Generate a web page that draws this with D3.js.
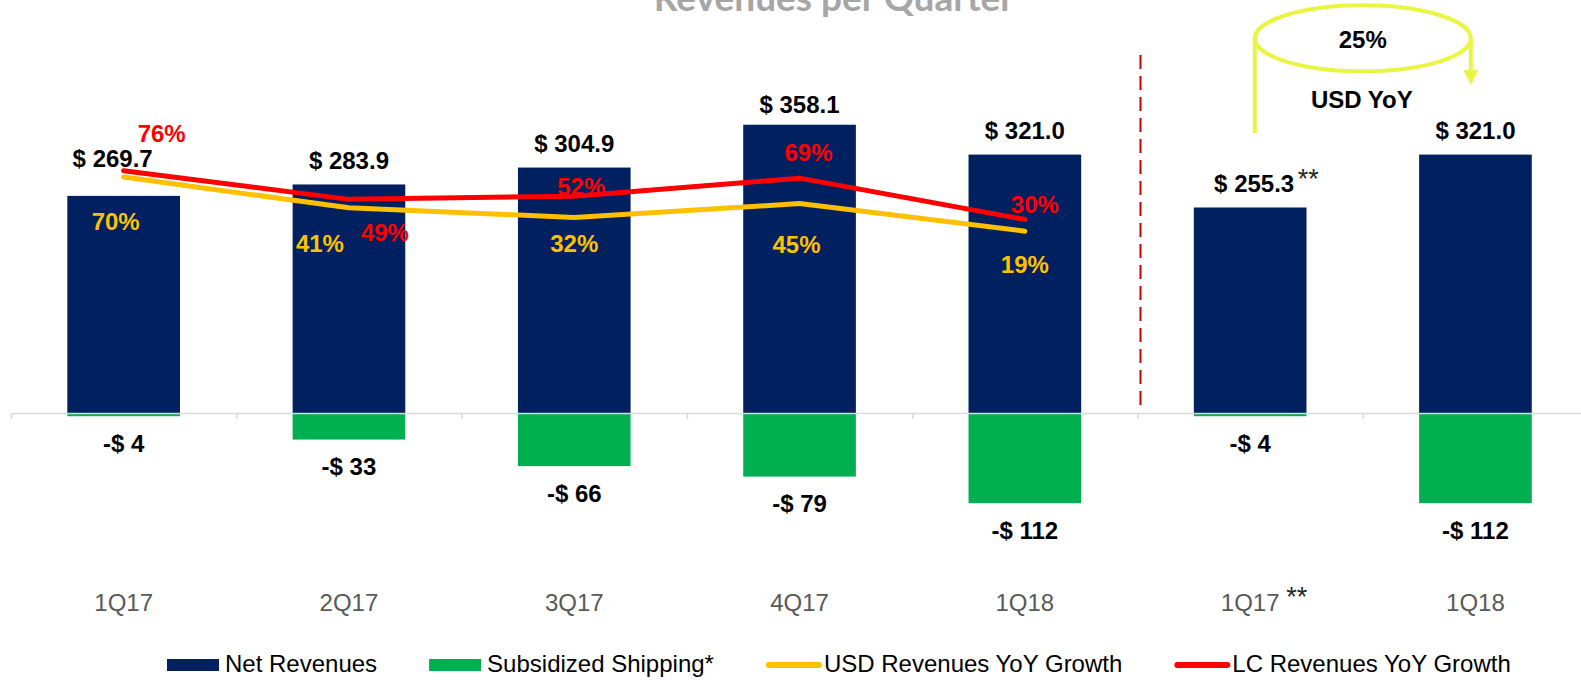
<!DOCTYPE html>
<html>
<head>
  <meta charset="utf-8">
  <title>Revenues per Quarter</title>
  <script src="https://d3js.org/d3.v7.min.js"></script>
  <style>
    body { margin: 0; background: #fff; }
    text { font-family: "Liberation Sans", Arial, sans-serif; }
  </style>
</head>
<body>
  <svg width="1581" height="680" id="mainsvg"></svg>
  <script>
    // data
    const categories = ["1Q17", "2Q17", "3Q17", "4Q17", "1Q18", "1Q17", "1Q18"];
    const categoryNotes = ["", "", "", "", "", "**", ""];
    const netRevenues = [269.7, 283.9, 304.9, 358.1, 321.0, 255.3, 321.0];
    const subsidizedShipping = [-4, -33, -66, -79, -112, -4, -112];
    const usdGrowth = [70, 41, 32, 45, 19];
    const lcGrowth = [76, 49, 52, 69, 30];
    const usdYoY = 25;

    // label nudges (dx, dy) so labels sit where the slide had them
    const usdNudge = [[-8, 44], [-29, 36], [0, 26], [-3, 41], [0, 33]];
    const lcNudge = [[38, -37], [36, 33], [7, -10], [9, -26], [10, -15]];
    const barLabelNudge = [[-11, -13], [0, 0], [0, 0], [0, 4], [0, 0], [4, 0], [0, 0]];

    const navy = "#00205f", green = "#00b050", yellow = "#ffc000", red = "#ff0000";

    let svg = d3.select('#mainsvg');
    const step = 225.3, left = 11;
    const idx = d3.range(categories.length);

    let x = d3.scaleBand().domain(idx).range([left, left + step * categories.length]);
    let xEdge = d3.scaleLinear().domain([0, categories.length]).range([left, left + step * categories.length]);
    let y = d3.scaleLinear().domain([-150, 400]).range([413 + 150 * 0.805, 413 - 400 * 0.805]);
    let yp = d3.scaleLinear().domain([0, 100]).range([251.3, 145.3]);
    const cx = i => x(i) + x.bandwidth() / 2;
    const barW = x.bandwidth() * 0.5;

    // title (cut off at the top, as on the slide)
    svg.append('text')
      .attr('x', 834).attr('y', 11)
      .attr('text-anchor', 'middle')
      .style('font-family', 'Lato, sans-serif')
      .style('font-weight', 'bold')
      .style('font-size', '37px')
      .attr('fill', '#a6a6a6')
      .text('Revenues per Quarter');

    // bars
    svg.selectAll('rect.net').data(netRevenues)
      .enter().append('rect')
      .attr('class', 'net')
      .attr('x', (d, i) => cx(i) - barW / 2)
      .attr('width', barW)
      .attr('y', d => y(d))
      .attr('height', d => y(0) - y(d))
      .attr('fill', navy);

    svg.selectAll('rect.ship').data(subsidizedShipping)
      .enter().append('rect')
      .attr('class', 'ship')
      .attr('x', (d, i) => cx(i) - barW / 2)
      .attr('width', barW)
      .attr('y', y(0))
      .attr('height', d => y(d) - y(0))
      .attr('fill', green);

    // axis with ticks between categories
    let axis = svg.append('g')
      .attr('transform', `translate(0,${y(0)})`)
      .call(d3.axisBottom(xEdge).tickValues(d3.range(0, categories.length + 1)).tickSize(6).tickSizeOuter(0).tickFormat(''));
    axis.selectAll('path, line').attr('stroke', '#d9d9d9').attr('stroke-width', 1.5);

    // dashed separator
    svg.append('line')
      .attr('x1', xEdge(5) + 3).attr('x2', xEdge(5) + 3)
      .attr('y1', 55).attr('y2', 408)
      .attr('stroke', '#c00000').attr('stroke-width', 2)
      .attr('stroke-dasharray', '14,7');

    // growth lines
    const line = d3.line().x((d, i) => cx(i)).y(d => yp(d));
    svg.append('path').datum(usdGrowth)
      .attr('d', line).attr('fill', 'none')
      .attr('stroke', yellow).attr('stroke-width', 5)
      .attr('stroke-linecap', 'round').attr('stroke-linejoin', 'round');
    svg.append('path').datum(lcGrowth)
      .attr('d', line).attr('fill', 'none')
      .attr('stroke', red).attr('stroke-width', 5)
      .attr('stroke-linecap', 'round').attr('stroke-linejoin', 'round');

    const boldLabel = sel => sel.style('font-weight', 'bold').style('font-size', '24px').attr('text-anchor', 'middle');

    // value labels
    svg.selectAll('text.net').data(netRevenues)
      .enter().append('text')
      .attr('class', 'net')
      .call(boldLabel)
      .attr('x', (d, i) => cx(i) + barLabelNudge[i][0])
      .attr('y', (d, i) => y(d) - 15.5 + barLabelNudge[i][1])
      .attr('fill', '#000')
      .text(d => '$ ' + d.toFixed(1));

    svg.selectAll('text.ship').data(subsidizedShipping)
      .enter().append('text')
      .attr('class', 'ship')
      .call(boldLabel)
      .attr('x', (d, i) => cx(i))
      .attr('y', d => y(d) + 35.5)
      .attr('fill', '#000')
      .text(d => '-$ ' + Math.abs(d));

    svg.selectAll('text.usd').data(usdGrowth)
      .enter().append('text')
      .attr('class', 'usd')
      .call(boldLabel)
      .attr('x', (d, i) => cx(i) + usdNudge[i][0])
      .attr('y', (d, i) => yp(d) + usdNudge[i][1] + 8.6)
      .attr('fill', yellow)
      .text(d => d + '%');

    svg.selectAll('text.lc').data(lcGrowth)
      .enter().append('text')
      .attr('class', 'lc')
      .call(boldLabel)
      .attr('x', (d, i) => cx(i) + lcNudge[i][0])
      .attr('y', (d, i) => yp(d) + lcNudge[i][1] + 8.6)
      .attr('fill', red)
      .text(d => d + '%');

    // category labels
    svg.selectAll('text.cat').data(categories)
      .enter().append('text')
      .attr('class', 'cat')
      .attr('x', (d, i) => cx(i))
      .attr('y', 611)
      .attr('text-anchor', 'middle')
      .style('font-size', '24px')
      .attr('fill', '#595959')
      .text(d => d);

    // "**" footnote marks
    idx.filter(i => categoryNotes[i]).forEach(i => {
      svg.append('text')
        .attr('x', cx(i) + 36).attr('y', 606)
        .style('font-size', '27px').attr('fill', '#262626')
        .text(categoryNotes[i]);
      svg.append('text')
        .attr('x', cx(i) + 47.5).attr('y', 187.5)
        .style('font-size', '27px').attr('fill', '#262626')
        .text(categoryNotes[i]);
    });

    // USD YoY annotation
    const ex = xEdge(6), ey = 38.3, rx = 108, ry = 33;
    const lime = '#e9f542';
    let ann = svg.append('g');
    ann.append('ellipse')
      .attr('cx', ex).attr('cy', ey).attr('rx', rx).attr('ry', ry)
      .attr('fill', 'none').attr('stroke', lime).attr('stroke-width', 4);
    ann.append('line')
      .attr('x1', ex - rx).attr('x2', ex - rx).attr('y1', ey).attr('y2', 133)
      .attr('stroke', lime).attr('stroke-width', 4);
    ann.append('line')
      .attr('x1', ex + rx).attr('x2', ex + rx).attr('y1', ey).attr('y2', 72)
      .attr('stroke', lime).attr('stroke-width', 4);
    ann.append('path')
      .attr('d', `M${ex + rx - 7.5},70 L${ex + rx + 7.5},70 L${ex + rx},85 Z`)
      .attr('fill', lime);
    ann.append('text')
      .call(boldLabel)
      .attr('x', ex).attr('y', 47.5)
      .attr('fill', '#000')
      .text(usdYoY + '%');
    ann.append('text')
      .call(boldLabel)
      .attr('x', ex - 1).attr('y', 107.5)
      .attr('fill', '#000')
      .text('USD YoY');

    // legend
    const legendItems = [
      { name: 'Net Revenues', color: navy, type: 'rect' },
      { name: 'Subsidized Shipping*', color: green, type: 'rect' },
      { name: 'USD Revenues YoY Growth', color: yellow, type: 'line' },
      { name: 'LC Revenues YoY Growth', color: red, type: 'line' }
    ];
    let lx = 167;
    legendItems.forEach(item => {
      let g = svg.append('g');
      if (item.type === 'rect') {
        g.append('rect').attr('x', lx).attr('y', 659).attr('width', 52).attr('height', 12).attr('fill', item.color);
      } else {
        g.append('line').attr('x1', lx + 3).attr('x2', lx + 53).attr('y1', 665).attr('y2', 665)
          .attr('stroke', item.color).attr('stroke-width', 6).attr('stroke-linecap', 'round');
      }
      let t = g.append('text')
        .attr('x', lx + 58).attr('y', 672)
        .style('font-size', '24px').attr('fill', '#000')
        .text(item.name);
      lx += 58 + t.node().getComputedTextLength() + 52;
    });
  </script>
</body>
</html>
